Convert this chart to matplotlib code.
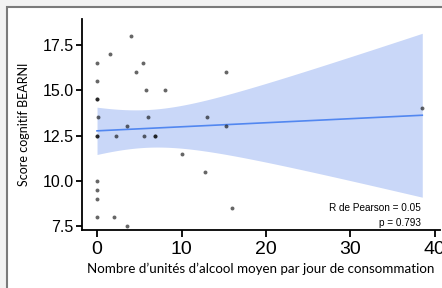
import numpy as np
import matplotlib
matplotlib.use('Agg')
import matplotlib.pyplot as plt
from matplotlib.patches import Rectangle

# alcohol units per day vs BEARNI score
alcool = [0, 0, 0, 0, 0.15, 0, 0, 0, 0, 0, 0,
          1.5, 2.0, 2.3, 3.5, 3.5, 4.05, 4.6, 5.5, 5.75, 5.6, 6.0, 6.9, 6.9,
          8.1, 10.0, 12.75, 13.0, 15.3, 15.3, 15.95, 38.5]
bearni = [16.5, 15.5, 14.5, 14.5, 13.5, 12.5, 12.5, 10.0, 9.5, 9.0, 8.0,
          17.0, 8.0, 12.5, 13.0, 7.5, 18.0, 16.0, 16.5, 15.0, 12.5, 13.5, 12.5, 12.5,
          15.0, 11.5, 10.5, 13.5, 16.0, 13.0, 8.5, 14.0]
x_ticks = [0, 10, 20, 30, 40]
y_ticks = [7.5, 10.0, 12.5, 15.0, 17.5]
r_text = 'R de Pearson = 0.05'
p_text = 'p = 0.793'

x = np.array(alcool)
y = np.array(bearni)
n = len(x)

# linear fit + 95% confidence band (like geom_smooth(method='lm'))
slope, intercept = np.polyfit(x, y, 1)
resid = y - (slope * x + intercept)
s = np.sqrt(np.sum(resid ** 2) / (n - 2))
sxx = np.sum((x - x.mean()) ** 2)
t_crit = 2.04
xs = np.linspace(x.min(), x.max(), 200)
fit = slope * xs + intercept
half = t_crit * s * np.sqrt(1 / n + (xs - x.mean()) ** 2 / sxx)

plt.rcParams['font.family'] = ['Liberation Sans', 'DejaVu Sans']

fig = plt.figure(figsize=(4.42, 2.88), dpi=100, facecolor='#f2f2f2')
fig.patches.append(Rectangle((7 / 442, -0.5), 1.5, 1.5 - 7 / 288,
                             transform=fig.transFigure, facecolor='white',
                             edgecolor='#7a7a7a', linewidth=1.5, zorder=-5))

ax = fig.add_axes([82 / 442, 58 / 288, 358 / 442, 211 / 288])
ax.set_facecolor('none')

ax.fill_between(xs, fit - half, fit + half, color='#c9d7f8', linewidth=0)
ax.plot(xs, fit, color='#5287f0', linewidth=1.2)
ax.scatter(x, y, s=8, color='black', alpha=0.6, linewidths=0, zorder=3)

ax.set_xlim(-1.78, 40.6)
ax.set_ylim(7.28, 18.94)
ax.set_xticks(x_ticks)
ax.set_yticks(y_ticks)
ax.set_yticklabels(['%.1f' % v for v in y_ticks])

for side in ['top', 'right']:
    ax.spines[side].set_visible(False)
for side in ['left', 'bottom']:
    ax.spines[side].set_linewidth(1.3)
ax.tick_params(axis='x', length=5, width=1.3, labelsize=14, colors='black', pad=3)
ax.tick_params(axis='y', length=4.5, width=1.3, labelsize=11.5, colors='black', pad=1.5)

ax.set_xlabel("Nombre d\u2019unités d\u2019alcool moyen par jour de consommation",
              fontsize=9.6, family=['Lato', 'DejaVu Sans'], labelpad=3)
ax.set_ylabel('Score cognitif BEARNI', fontsize=9,
              family=['Lato', 'DejaVu Sans'], labelpad=9)

ax.text(38.3, 8.5, r_text, ha='right', va='center', fontsize=7.2)
ax.text(38.3, 7.68, p_text, ha='right', va='center', fontsize=7.2)

fig.savefig('out.png', dpi=100, facecolor=fig.get_facecolor())
